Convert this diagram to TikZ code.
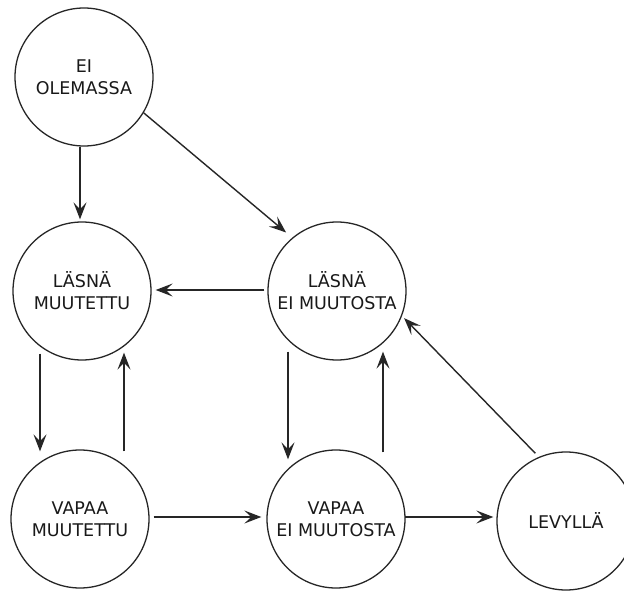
\documentclass[tikz,border=0pt]{standalone}
\usepackage{fontspec}
\setmainfont{DejaVu Sans}
\usetikzlibrary{arrows.meta}
\tikzset{
  state/.style={draw=black!85, circle, line width=1.3pt, minimum size=138pt, inner sep=0pt,
    align=center, font=\fontsize{17.5}{22}\selectfont, text=black!90},
  arr/.style={draw=black!85, line width=1.4pt, -{Stealth[length=17pt,width=13pt,inset=7pt]}}
}
\begin{document}
\begin{tikzpicture}[x=1pt,y=-1pt]
\useasboundingbox (0,0) rectangle (624,591);
\fill[white] (0,0) rectangle (624,591);
\node[state] (A) at (84,77) {EI\\OLEMASSA};
\node[state] (B) at (82,291) {LÄSNÄ\\MUUTETTU};
\node[state] (C) at (337,291) {LÄSNÄ\\EI MUUTOSTA};
\node[state] (D) at (80,519) {VAPAA\\MUUTETTU};
\node[state] (E) at (336,519) {VAPAA\\EI MUUTOSTA};
\node[state] (F) at (566,521) {LEVYLLÄ};
% arrows
\draw[arr] ([xshift=-4pt]A.south) -- ([xshift=-2pt,yshift=2pt]B.north);
\draw[arr, shorten >=8pt] (A.-31) -- (C.130);
\draw[arr] ([xshift=-3pt,yshift=1pt]C.west) -- ([xshift=4pt,yshift=1pt]B.east);
\draw[arr] ([xshift=-42pt,yshift=7pt]B.south) -- ([xshift=-40pt,yshift=-2pt]D.north);
\draw[arr] ([xshift=44pt,yshift=-2pt]D.north) -- ([xshift=42pt,yshift=8pt]B.south);
\draw[arr] ([xshift=-49pt,yshift=9pt]C.south) -- ([xshift=-48pt,yshift=-10pt]E.north);
\draw[arr] ([xshift=47pt,yshift=-3pt]E.north) -- ([xshift=46pt,yshift=9pt]C.south);
\draw[arr] ([xshift=4pt,yshift=2pt]D.east) -- ([xshift=-5pt,yshift=2pt]E.west);
\draw[arr] ([xshift=-1pt,yshift=2pt]E.east) -- ([xshift=-3pt,yshift=4pt]F.west);
\draw[arr, shorten <=5pt, shorten >=3pt] (F.113) -- (C.-21);
\end{tikzpicture}
\end{document}
